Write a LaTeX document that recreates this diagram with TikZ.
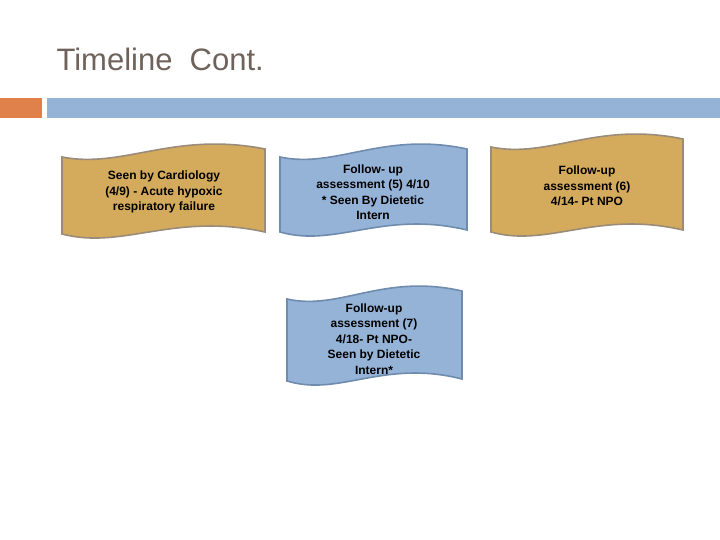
\documentclass[tikz,border=0pt]{standalone}
\usepackage{fontspec}
\setmainfont{Liberation Sans}
\definecolor{tan}{HTML}{D4AA5C}
\definecolor{tanline}{HTML}{9A8C78}
\definecolor{bl}{HTML}{95B3D7}
\definecolor{blline}{HTML}{6F8CAE}
\definecolor{ttl}{HTML}{6E625B}
\definecolor{org}{HTML}{E0804A}
\newcommand\wavebox[6]{%
 \pgfmathsetmacro\ww{#3-#1}%
 \path[draw=#6,fill=#5,line width=1.6pt]
  (#1,#2+14) .. controls (#1+0.3*\ww,#2+26) and (#1+0.55*\ww,#2-12) .. (#3,#2+6)
  -- (#3,#4-8) .. controls (#1+0.55*\ww,#4-28) and (#1+0.3*\ww,#4+10) .. (#1,#4-6) -- cycle;}
\tikzset{lbl/.style={align=center,font=\bfseries\fontsize{12pt}{15.5pt}\selectfont,text=black}}
\begin{document}
\begin{tikzpicture}[x=1pt,y=-1pt]
\useasboundingbox (0,0) rectangle (720,540);
\node[anchor=west,text=ttl,font=\fontsize{31pt}{36pt}\selectfont] (title) at (53,59) {Timeline\ \ Cont.};
\fill[org] (0,98) rectangle (42,118);
\fill[bl] (47,98) rectangle (720,118);
\wavebox{62}{143}{265}{240}{tan}{tanline}
\node[lbl] (a) at (164,192) {Seen by Cardiology\\(4/9) - Acute hypoxic\\respiratory failure};
\wavebox{280}{143}{467}{238}{bl}{blline}
\node[lbl] (b) at (373,192) {Follow- up\\assessment (5) 4/10\\* Seen By Dietetic\\Intern};
\wavebox{491}{133}{683}{238}{tan}{tanline}
\node[lbl] (c) at (587,186) {Follow-up\\assessment (6)\\4/14- Pt NPO};
\wavebox{287}{285}{462}{387}{bl}{blline}
\node[lbl] (d) at (374,339) {Follow-up\\assessment (7)\\4/18- Pt NPO-\\Seen by Dietetic\\Intern*};
\end{tikzpicture}
\end{document}
